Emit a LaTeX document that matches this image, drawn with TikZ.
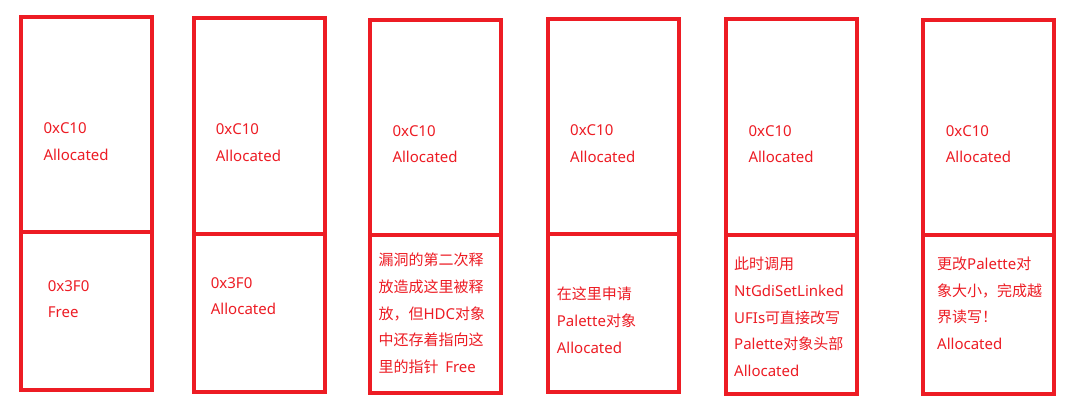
\documentclass[tikz,border=0pt]{standalone}
\usepackage{fontspec}
\setmainfont{Noto Sans}
\newfontfamily\cjk{Noto Sans CJK SC}
\definecolor{memred}{HTML}{ED1C24}
\begin{document}
\begin{tikzpicture}[x=1pt,y=-1pt,
  cell/.style={draw=memred,line width=4pt,inner sep=0pt,outer sep=0pt},
  lbl/.style={anchor=west,inner sep=0pt,align=left,text=memred,font=\fontsize{15}{26.7}\selectfont}]
\useasboundingbox (0,0) rectangle (1080,409);
\fill[white] (0,0) rectangle (1080,409);
% box 1
\node[cell,minimum width=131pt,minimum height=214.7pt] (c1t) at (86.8,124.65) {};
\node[cell,minimum width=131pt,minimum height=158pt] (c1b) at (86.8,311) {};
% box 2
\node[cell,minimum width=131pt,minimum height=215.7pt] (c2t) at (259.2,125.85) {};
\node[cell,minimum width=131pt,minimum height=158.3pt] (c2b) at (259.2,312.85) {};
% box 3
\node[cell,minimum width=131.3pt,minimum height=215.6pt] (c3t) at (435.65,127.5) {};
\node[cell,minimum width=131.3pt,minimum height=158pt] (c3b) at (435.65,314.3) {};
% box 4
\node[cell,minimum width=130.7pt,minimum height=215.2pt] (c4t) at (613.35,126.9) {};
\node[cell,minimum width=130.7pt,minimum height=157.5pt] (c4b) at (613.35,313.25) {};
% box 5
\node[cell,minimum width=131pt,minimum height=215.8pt] (c5t) at (791.5,127.4) {};
\node[cell,minimum width=131pt,minimum height=158.4pt] (c5b) at (791.5,314.5) {};
% box 6
\node[cell,minimum width=131pt,minimum height=215.6pt] (c6t) at (988.8,127.5) {};
\node[cell,minimum width=131pt,minimum height=158.4pt] (c6b) at (988.8,314.5) {};
% labels
\node[lbl] (t1) at (43.3,141.8) {0xC10\\Allocated};
\node[lbl] (b1) at (47.7,299.2) {0x3F0\\Free};
\node[lbl] (t2) at (215.7,142.7) {0xC10\\Allocated};
\node[lbl] (b2) at (210.7,296) {0x3F0\\Allocated};
\node[lbl] (t3) at (392.3,144) {0xC10\\Allocated};
\node[lbl] (b3) at (378.3,313.3) {{\cjk 漏洞的第二次释}\\{\cjk 放造成这里被释}\\{\cjk 放，但}HDC{\cjk 对象}\\{\cjk 中还存着指向这}\\{\cjk 里的指针}\hspace{0.45em}Free};
\node[lbl] (t4) at (570,143.3) {0xC10\\Allocated};
\node[lbl] (b4) at (556.7,320.3) {{\cjk 在这里申请}\\Palette{\cjk 对象}\\Allocated};
\node[lbl] (t5) at (748.3,144) {0xC10\\Allocated};
\node[lbl] (b5) at (734,317) {{\cjk 此时调用}\\NtGdiSetLinked\\UFIs{\cjk 可直接改写}\\Palette{\cjk 对象头部}\\Allocated};
\node[lbl] (t6) at (945.7,144) {0xC10\\Allocated};
\node[lbl] (b6) at (937,303.3) {{\cjk 更改}Palette{\cjk 对}\\{\cjk 象大小，完成越}\\{\cjk 界读写！}\\Allocated};
\end{tikzpicture}
\end{document}
